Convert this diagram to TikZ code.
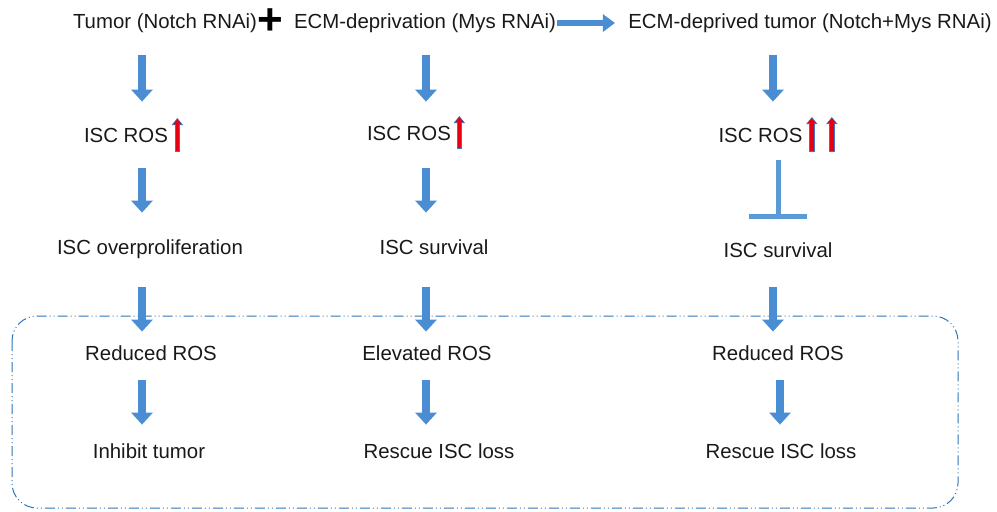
\documentclass[tikz,border=0pt]{standalone}
\usepackage{fontspec}
\setmainfont{Liberation Sans}
\usetikzlibrary{arrows.meta, positioning, calc}
\definecolor{arrowblue}{RGB}{74,141,211}
\definecolor{barblue}{RGB}{91,155,213}
\definecolor{boxblue}{RGB}{46,117,182}
\definecolor{rosred}{RGB}{230,0,18}
\definecolor{rosedge}{RGB}{68,114,196}

\begin{document}
\begin{tikzpicture}[x=0.5pt, y=-0.5pt,
  lbl/.style={inner sep=0pt, text height=7.4pt, text depth=2pt,
              font=\fontsize{10.2}{12}\selectfont, text=black!90},
  down/.style={arrowblue, line width=3.6pt, -{Triangle[width=10.5pt,length=6pt]}},
  rightarr/.style={arrowblue, line width=3pt, -{Triangle[width=8.5pt,length=6pt]}},
  block/.style={barblue, line width=2.5pt, -{Bar[width=29pt]}},
  upout/.style={rosedge, line width=2.8pt, -{Triangle[width=5.6pt,length=3.6pt]}},
  upin/.style={rosred, line width=1.7pt, shorten <=0.6pt, shorten >=0.6pt,
               -{Triangle[width=3.8pt,length=2.4pt]}},
  grp/.style={boxblue, line width=0.5pt, rounded corners=12.5pt,
              dash pattern=on 5pt off 1.5pt on .5pt off 1.5pt on .5pt off 1.5pt}
]
\useasboundingbox (0,0) rectangle (997,511);

% columns
\coordinate (c1) at (142,0);
\coordinate (c2) at (426,0);
\coordinate (c3) at (773,0);
\coordinate (c3t) at (778,0);
\coordinate (c3b) at (780,0);

% top row
\node[lbl] (tumor) at (165,23) {Tumor (Notch RNAi)};
\node[inner sep=0pt, font=\fontsize{22}{22}\selectfont\bfseries] (plus) at (270,22) {+};
\node[lbl] (ecm) at (425,23) {ECM-deprivation (Mys RNAi)};
\node[lbl] (combo) at (810,23) {ECM-deprived tumor (Notch+Mys RNAi)};

% ROS level
\node[lbl] (ros1) at (126,137) {ISC ROS};
\node[lbl] (ros2) at (409,135) {ISC ROS};
\node[lbl] (ros3) at (760.5,137) {ISC ROS};

% ISC fate
\node[lbl] (prolif) at (150,249) {ISC overproliferation};
\node[lbl] (surv2) at (434,249) {ISC survival};
\node[lbl] (surv3) at (778,252) {ISC survival};

% rescue box
\draw[grp] (12,316) rectangle (958,508);
\node[lbl] (low1) at (151,355) {Reduced ROS};
\node[lbl] (high2) at (427,355) {Elevated ROS};
\node[lbl] (low3) at (778,355) {Reduced ROS};
\node[lbl] (inhibit) at (149,453) {Inhibit tumor};
\node[lbl] (rescue2) at (439,453) {Rescue ISC loss};
\node[lbl] (rescue3) at (781,453) {Rescue ISC loss};

% horizontal arrow
\draw[rightarr, shorten <=0.5pt, shorten >=6.5pt] (ecm.east) -- (combo.west);

% column 1
\draw[down, shorten <=11.3pt, shorten >=12.8pt] (tumor.south -| c1) -- (ros1.north -| c1);
\draw[down, shorten <=10.8pt, shorten >=13.3pt] (ros1.south -| c1) -- (prolif.north -| c1);
\draw[down, shorten <=14.3pt, shorten >=6.8pt] (prolif.south -| c1) -- (low1.north -| c1);
\draw[down, shorten <=7.8pt, shorten >=9.3pt] (low1.south -| c1) -- (inhibit.north -| c1);

% column 2
\draw[down, shorten <=11.3pt, shorten >=11.8pt] (ecm.south -| c2) -- (ros2.north -| c2);
\draw[down, shorten <=11.8pt, shorten >=13.3pt] (ros2.south -| c2) -- (surv2.north -| c2);
\draw[down, shorten <=14.3pt, shorten >=6.8pt] (surv2.south -| c2) -- (high2.north -| c2);
\draw[down, shorten <=7.8pt, shorten >=9.3pt] (high2.south -| c2) -- (rescue2.north -| c2);

% column 3
\draw[down, shorten <=11.3pt, shorten >=12.8pt] (combo.south -| c3) -- (ros3.north -| c3);
\draw[block, shorten <=6.8pt, shorten >=11.8pt] (ros3.south -| c3t) -- (surv3.north -| c3t);
\draw[down, shorten <=12.8pt, shorten >=6.8pt] (surv3.south -| c3) -- (low3.north -| c3);
\draw[down, shorten <=7.8pt, shorten >=9.3pt] (low3.south -| c3b) -- (rescue3.north -| c3b);

% ROS up marks
\draw[upout] ([xshift=4.5pt, yshift=-7.5pt]ros1.east) -- ([xshift=4.5pt, yshift=9.5pt]ros1.east);
\draw[upin] ([xshift=4.5pt, yshift=-7.5pt]ros1.east) -- ([xshift=4.5pt, yshift=9.5pt]ros1.east);
\draw[upout] ([xshift=4pt, yshift=-7pt]ros2.east) -- ([xshift=4pt, yshift=9.5pt]ros2.east);
\draw[upin] ([xshift=4pt, yshift=-7pt]ros2.east) -- ([xshift=4pt, yshift=9.5pt]ros2.east);
\draw[upout] ([xshift=4.5pt, yshift=-7.5pt]ros3.east) -- ([xshift=4.5pt, yshift=10pt]ros3.east);
\draw[upin] ([xshift=4.5pt, yshift=-7.5pt]ros3.east) -- ([xshift=4.5pt, yshift=10pt]ros3.east);
\draw[upout] ([xshift=14.5pt, yshift=-7.5pt]ros3.east) -- ([xshift=14.5pt, yshift=10pt]ros3.east);
\draw[upin] ([xshift=14.5pt, yshift=-7.5pt]ros3.east) -- ([xshift=14.5pt, yshift=10pt]ros3.east);
\end{tikzpicture}
\end{document}
